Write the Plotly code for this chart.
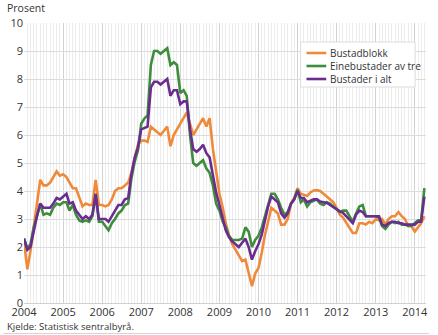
import pandas as pd
import plotly.graph_objects as go

months = pd.date_range("2004-01-01", "2014-04-01", freq="MS")

series_names = ["Bustadblokk", "Einebustader av tre", "Bustader i alt"]

bustadblokk = [
    2.2, 1.2, 1.85, 2.7, 3.5, 4.4, 4.2, 4.2, 4.3, 4.5, 4.7, 4.55,
    4.6, 4.5, 4.3, 4.1, 4.1, 3.75, 3.45, 3.55, 3.5, 3.5, 4.4, 3.5,
    3.5, 3.45, 3.5, 3.7, 4.0, 4.1, 4.1, 4.2, 4.3, 4.65, 5.2, 5.65,
    5.8, 5.8, 5.75, 6.3, 6.2, 6.1, 6.0, 6.15, 6.3, 5.6, 6.0, 6.2,
    6.4, 6.6, 6.8, 6.4, 6.0, 6.2, 6.4, 6.6, 6.3, 6.6, 5.5, 4.7,
    3.9, 3.4, 2.85, 2.4, 2.1, 1.9, 1.7, 1.5, 1.55, 1.1, 0.6, 1.05,
    1.25, 1.8, 2.4, 2.9, 3.4, 3.3, 3.2, 2.8, 2.8, 3.0, 3.55, 3.75,
    4.1, 3.9, 3.85, 3.82, 3.95, 4.02, 4.03, 4.0, 3.9, 3.8, 3.72, 3.6,
    3.4, 3.15, 3.05, 2.85, 2.65, 2.5, 2.5, 2.85, 2.85, 2.8, 2.9, 2.85,
    3.0, 2.95, 3.0, 2.8, 3.0, 3.1, 3.1, 3.25, 3.1, 3.0, 2.75, 2.75,
    2.55, 2.7, 2.85, 3.1,
]

einebustader = [
    2.3, 1.95, 2.1, 2.7, 3.1, 3.55, 3.15, 3.2, 3.15, 3.4, 3.55, 3.5,
    3.6, 3.6, 3.3, 3.5, 3.15, 2.95, 2.9, 2.95, 2.9, 3.1, 3.85, 2.9,
    2.9, 2.75, 2.6, 2.85, 3.0, 3.2, 3.3, 3.5, 3.55, 4.45, 5.05, 5.45,
    6.4, 6.6, 6.7, 8.5, 9.0, 9.0, 8.9, 9.0, 9.1, 8.5, 8.6, 8.5,
    7.5, 7.6, 7.4, 6.0, 5.0, 4.9, 5.0, 5.1, 4.8, 4.65, 4.2, 3.55,
    3.3, 2.9, 2.7, 2.4, 2.25, 2.25, 2.25, 2.3, 2.7, 2.55, 2.0, 2.25,
    2.4, 2.7, 3.05, 3.5, 3.9, 3.9, 3.7, 3.4, 3.15, 3.25, 3.55, 3.7,
    4.05, 3.6, 3.7, 3.45, 3.6, 3.65, 3.7, 3.55, 3.5, 3.6, 3.55, 3.45,
    3.35, 3.25, 3.3, 3.3, 3.1, 2.9, 3.2, 3.45, 3.5, 3.1, 3.1, 3.1,
    3.1, 3.05, 2.75, 2.65, 2.8, 2.9, 2.85, 2.9, 2.8, 2.8, 2.75, 2.75,
    2.85, 2.95, 2.95, 4.1,
]

bustader_i_alt = [
    2.3, 1.9, 2.0, 2.6, 3.1, 3.55, 3.4, 3.4, 3.4, 3.55, 3.75, 3.7,
    3.8, 3.9, 3.55, 3.6, 3.3, 3.15, 3.0, 3.1, 3.0, 3.15, 3.9, 3.0,
    3.0, 3.0, 2.9, 3.1, 3.25, 3.5, 3.5, 3.7, 3.75, 4.6, 5.2, 5.55,
    6.2, 6.25, 6.3, 7.7, 7.9, 7.9, 7.8, 7.9, 8.0, 7.4, 7.6, 7.6,
    7.1, 7.2, 7.2, 6.2, 5.5, 5.4, 5.5, 5.65, 5.35, 5.2, 4.6, 3.95,
    3.5, 3.0, 2.6, 2.35, 2.2, 2.1, 2.0, 2.15, 2.3, 2.0, 1.55, 1.85,
    2.1, 2.45, 2.95, 3.45, 3.8, 3.7, 3.6, 3.2, 3.05, 3.2, 3.55, 3.7,
    4.0, 3.75, 3.75, 3.6, 3.65, 3.7, 3.7, 3.62, 3.6, 3.58, 3.5, 3.42,
    3.35, 3.27, 3.22, 3.1, 2.95, 2.85, 3.15, 3.3, 3.25, 3.1, 3.1, 3.1,
    3.1, 3.1, 2.8, 2.75, 2.85, 2.9, 2.9, 2.85, 2.85, 2.8, 2.8, 2.8,
    2.8, 2.9, 2.9, 3.8,
]

year_ticks = [str(y) for y in range(2004, 2015)]
y_ticks = list(range(0, 11))

colors = ["#ef8a3a", "#3d8d3d", "#6a2d8f"]
values = [bustadblokk, einebustader, bustader_i_alt]

FONT = "Open Sans"
TXT = "#333333"

fig = go.Figure()
for name, vals, col in zip(series_names, values, colors):
    fig.add_trace(go.Scatter(x=months, y=vals, mode="lines", name=name,
                             line=dict(color=col, width=2.6), showlegend=False))

L, R, T, B, W, H = 21, 10, 23, 32, 438, 335
pw, ph = W - L - R, H - T - B


def px(x):
    return (x - L) / pw


def py(y):
    return (H - B - y) / ph


fig.update_layout(
    width=W, height=H, autosize=False,
    margin=dict(l=L, r=R, t=T, b=B),
    paper_bgcolor="white", plot_bgcolor="white",
    font=dict(family=FONT, size=11, color=TXT),
    xaxis=dict(
        type="date",
        range=["2004-01-01", "2014-04-16"],
        tickvals=[f"{y}-01-01" for y in year_ticks],
        ticktext=year_ticks,
        showgrid=True, gridcolor="#d2d2d2", gridwidth=1,
        minor=dict(dtick="M1", tick0="2004-01-01", showgrid=True,
                   gridcolor="#ececec", gridwidth=1),
        ticks="", showline=False, zeroline=False,
        ticklabelstandoff=1,
        tickfont=dict(size=11, color=TXT, family=FONT),
    ),
    yaxis=dict(
        range=[0, 10],
        tickvals=y_ticks,
        showgrid=True, gridcolor="#dcdcdc", gridwidth=1,
        zeroline=True, zerolinecolor="#cfcfcf", zerolinewidth=1,
        ticks="", showline=False,
        tickfont=dict(size=11, color=TXT, family=FONT),
    ),
)

# Title and source
fig.add_annotation(text="Prosent", xref="paper", yref="paper",
                   x=px(2), y=py(8), xanchor="left", yanchor="middle",
                   showarrow=False, font=dict(size=10.5, color=TXT, family=FONT))
fig.add_annotation(text="Kjelde: Statistisk sentralbyrå.", xref="paper", yref="paper",
                   x=px(2), y=py(326), xanchor="left", yanchor="middle",
                   showarrow=False, font=dict(size=9.5, color=TXT, family=FONT))
fig.add_shape(type="line", xref="paper", yref="paper",
              x0=px(0), x1=px(431), y0=py(333.5), y1=py(333.5),
              line=dict(color="#d5d5d5", width=1))

# Legend box
fig.add_shape(type="rect", xref="paper", yref="paper",
              x0=px(301), x1=px(417), y0=py(42), y1=py(87),
              line=dict(color="#dddddd", width=1), fillcolor="white", layer="above")
for i, (name, col) in enumerate(zip(series_names, colors)):
    yy = 53 + 13 * i
    fig.add_shape(type="line", xref="paper", yref="paper",
                  x0=px(307), x1=px(327), y0=py(yy), y1=py(yy),
                  line=dict(color=col, width=2.6), layer="above")
    fig.add_annotation(text=name, xref="paper", yref="paper",
                       x=px(329), y=py(yy), xanchor="left", yanchor="middle",
                       showarrow=False, font=dict(size=10, color=TXT, family=FONT))

fig.write_html("out.html")
